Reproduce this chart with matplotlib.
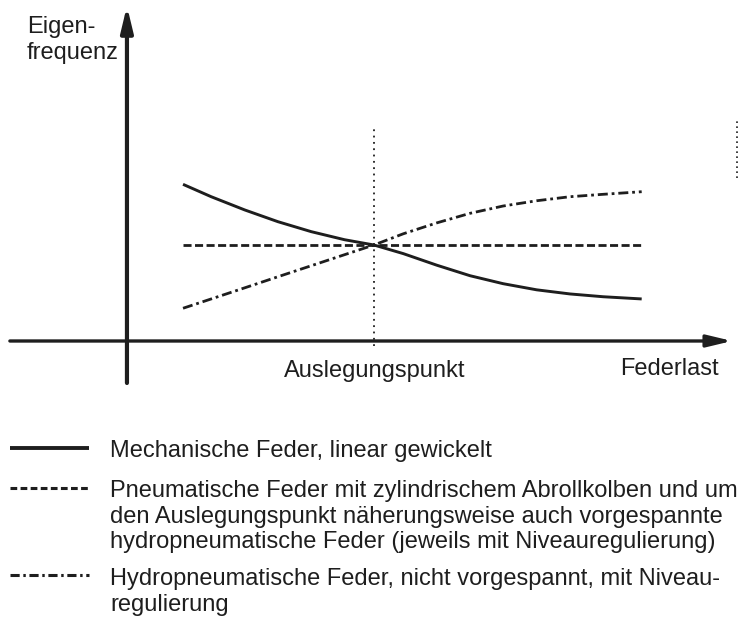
import matplotlib
matplotlib.use("Agg")
from matplotlib import pyplot as plt

plt.rcParams['font.family'] = ['Liberation Sans', 'DejaVu Sans']

# Federlast relativ zum Auslegungspunkt (=1), Eigenfrequenz relativ (=1 im Auslegungspunkt)
last = [0.227, 0.341, 0.477, 0.611, 0.746, 0.881, 1.0, 1.119, 1.254, 1.389,
        1.523, 1.659, 1.794, 1.928, 2.084]
f_mech = [1.632, 1.503, 1.365, 1.243, 1.139, 1.055, 1.0, 0.91, 0.79, 0.68,
          0.597, 0.533, 0.490, 0.461, 0.438]
f_pneu = [1.0] * 15
f_hydro = [0.341, 0.438, 0.554, 0.669, 0.784, 0.899, 1.0, 1.117, 1.230, 1.330,
           1.406, 1.461, 1.503, 1.528, 1.555]
auslegung = 1.0

legend_texts = [
    ["Mechanische Feder, linear gewickelt"],
    ["Pneumatische Feder mit zylindrischem Abrollkolben und um",
     "den Auslegungspunkt näherungsweise auch vorgespannte",
     "hydropneumatische Feder (jeweils mit Niveauregulierung)"],
    ["Hydropneumatische Feder, nicht vorgespannt, mit Niveau-",
     "regulierung"],
]

W, H = 739, 617
col = '#1e1e1e'
fs = 17

def px(x, y):
    return x / W, 1 - y / H

fig = plt.figure(figsize=(W / 100, H / 100), dpi=100)
ax = fig.add_axes([0, 0, 1, 1])
ax.set_xlim(-0.514, 2.478)
ax.set_ylim(-2.875, 3.552)
ax.axis('off')

styles = [
    dict(ls='-', lw=2.1),
    dict(ls=(0, (2.9, 1.25)), lw=2.0),
    dict(ls=(0, (3.6, 1.4, 1.0, 1.4)), lw=2.0),
]

# Achsen mit Pfeilen
ax.annotate('', xy=(0, 3.49), xytext=(0, -0.4375),
            arrowprops=dict(arrowstyle='-|>,head_length=0.75,head_width=0.18',
                            lw=3.0, color=col, shrinkA=0, shrinkB=0, mutation_scale=20))
ax.annotate('', xy=(2.45, 0), xytext=(-0.474, 0),
            arrowprops=dict(arrowstyle='-|>,head_length=0.75,head_width=0.18',
                            lw=2.4, color=col, shrinkA=0, shrinkB=0, mutation_scale=20))

# Auslegungspunkt
ax.plot([auslegung, auslegung], [-0.05, 2.25], color=col, lw=1.3, ls=(0, (1, 2.5)))
ax.plot([2.47, 2.47], [1.70, 2.30], color=col, lw=1.2, ls=(0, (1, 2)))

for fy, st in zip([f_mech, f_pneu, f_hydro], styles):
    ax.plot(last, fy, color=col, solid_capstyle='butt', dash_capstyle='butt',
            solid_joinstyle='round', **st)

fig.text(*px(27, 33), "Eigen-", fontsize=fs, color=col, va='baseline', ha='left')
fig.text(*px(27, 59), "frequenz", fontsize=fs, color=col, va='baseline', ha='left')
fig.text(*px(375, 377), "Auslegungspunkt", fontsize=fs, color=col, va='baseline', ha='center')
fig.text(*px(719, 375), "Federlast", fontsize=fs, color=col, va='baseline', ha='right')

# Legende
handle_y = [448, 488, 575]
text_y0 = [457, 497, 585]
line_step = 25.5
leg_styles = [
    dict(ls='-', lw=2.8),
    dict(ls=(0, (2.2, 1.1)), lw=2.2),
    dict(ls=(0, (3.0, 1.2, 0.8, 1.2)), lw=2.2),
]
for hy, ty, lines, st in zip(handle_y, text_y0, legend_texts, leg_styles):
    x0, y0 = px(10, hy)
    x1, _ = px(89, hy)
    fig.add_artist(plt.Line2D([x0, x1], [y0, y0], color=col,
                              solid_capstyle='butt', dash_capstyle='butt', **st))
    for i, t in enumerate(lines):
        fig.text(*px(110, ty + i * line_step), t, fontsize=fs, color=col,
                 va='baseline', ha='left')

fig.savefig('out.png', dpi=100)
